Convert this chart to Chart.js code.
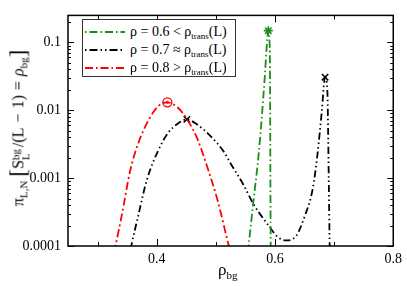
<!DOCTYPE html>
<html>
<head>
<meta charset="utf-8">
<script src="https://cdn.jsdelivr.net/npm/chart.js@4.4.0/dist/chart.umd.min.js"></script>
<style>
  body { margin: 0; background: #fff; }
  #wrap { position: relative; width: 407px; height: 286px; font-family: "Liberation Serif", "DejaVu Serif", serif; }
  #legend { position: absolute; left: 82px; top: 19px; width: 152px; height: 56px; border: 1px solid #333; background: #fff; }
  .row { position: absolute; left: 0; height: 18px; font-size: 14px; line-height: 18px; white-space: nowrap; }
  .row svg { position: absolute; left: 2px; top: 4px; }
  .row span.t { position: absolute; left: 47px; top: 0; }
  sub.s { font-size: 9px; vertical-align: -3px; }
  #ytitle { position: absolute; left: 21px; top: 128px; transform: translate(-50%, -50%) rotate(-90deg); font-size: 16px; white-space: nowrap; line-height: 20px; }
  #ytitle .br { font-size: 23px; vertical-align: -2px; }
  #ytitle .op { margin: 0 5px; }
  #ytitle sub, #ytitle sup { font-size: 11px; }
  #ytitle .stk { display: inline-block; vertical-align: -6px; line-height: 10px; font-size: 11px; margin-right: 2px; }
  #xtitle { position: absolute; left: 218px; top: 260px; font-size: 17px; }
  #xtitle sub { font-size: 11px; vertical-align: -4px; }
</style>
</head>
<body>
<div id="wrap">
  <canvas id="c" width="407" height="286"></canvas>
  <div id="legend">
    <div class="row" style="top:3px"><svg width="40" height="10"><line x1="0" y1="5" x2="40" y2="5" stroke="#1b8c1b" stroke-width="2" stroke-dasharray="1.5,3,8,3"/></svg><span class="t">ρ = 0.6 &lt; ρ<sub class="s">trans</sub>(L)</span></div>
    <div class="row" style="top:21px"><svg width="40" height="10"><line x1="0" y1="5" x2="40" y2="5" stroke="#000" stroke-width="2" stroke-dasharray="1.5,3,8,3,1.5,3"/></svg><span class="t">ρ = 0.7 ≈ ρ<sub class="s">trans</sub>(L)</span></div>
    <div class="row" style="top:39px"><svg width="40" height="10"><line x1="0" y1="5" x2="40" y2="5" stroke="#ff0000" stroke-width="2" stroke-dasharray="8,3,1.5,3"/></svg><span class="t">ρ = 0.8 &gt; ρ<sub class="s">trans</sub>(L)</span></div>
  </div>
  <div id="ytitle">π<sub>L,N</sub> <span class="br">[</span>S<span class="stk">bg<br>L</span>/(L<span class="op">−</span>1)<span class="op">=</span><i>ρ</i><sub>bg</sub><span class="br">]</span></div>
  <div id="xtitle">ρ<sub>bg</sub></div>
</div>
<script>
// order parameter rho_bg and probability pi_{L,N}
const rhoGreen = [0.554, 0.5553, 0.5636, 0.572, 0.5775, 0.583, 0.586, 0.5887, 0.5912, 0.5928, 0.593];
const piGreen = [8e-5, 1.0e-4, 4.6e-4, 2.06e-3, 7.5e-3, 0.0335, 0.087, 0.149, 0.08, 1.0e-4, 8e-5];

const rhoBlack = [0.356, 0.358, 0.369, 0.383, 0.4025, 0.419, 0.436, 0.451, 0.469, 0.491, 0.5136, 0.5247, 0.547, 0.5636, 0.586, 0.605, 0.619, 0.636, 0.650, 0.664, 0.672, 0.679, 0.6847, 0.6885, 0.691, 0.6925, 0.693];
const piBlack = [9e-5, 1.1e-4, 2.85e-4, 9.2e-4, 2.55e-3, 4.6e-3, 6.4e-3, 7.35e-3, 6.1e-3, 4.17e-3, 2.44e-3, 1.66e-3, 7.9e-4, 4.14e-4, 2.18e-4, 1.35e-4, 1.21e-4, 1.42e-4, 2.7e-4, 7.1e-4, 2.3e-3, 9.3e-3, 0.0307, 0.02, 9e-4, 1.0e-4, 8e-5];

const rhoRed = [0.327, 0.330, 0.341, 0.355, 0.369, 0.386, 0.4025, 0.418, 0.436, 0.4525, 0.469, 0.486, 0.5025, 0.522, 0.525];
const piRed = [8e-5, 1.0e-4, 2.85e-4, 1.27e-3, 3.3e-3, 7.1e-3, 0.0115, 0.0131, 0.0109, 7.1e-3, 3.75e-3, 1.42e-3, 4.87e-4, 1.0e-4, 8e-5];

const xTicks = [0.4, 0.6, 0.8];
const xMinor = [0.3, 0.5, 0.7];
const yTicks = [1e-4, 1e-3, 1e-2, 1e-1];
const yTickLabels = ["0.0001", "0.001", "0.01", "0.1"];

const GREEN = "#1b8c1b", BLACK = "#000000", RED = "#ff0000";

const pts = (xs, ys) => xs.map((x, i) => ({ x: x, y: ys[i] }));
// local maxima get a marker
const peaks = (xs, ys) => pts(xs, ys).filter((p, i) => i > 0 && i < ys.length - 1 && ys[i] > ys[i - 1] && ys[i] > ys[i + 1]);

function curve(label, xs, ys, color, dash) {
  return {
    type: "line", label: label, data: pts(xs, ys),
    borderColor: color, borderWidth: 1.8, borderDash: dash,
    pointRadius: 0, fill: false, cubicInterpolationMode: "monotone"
  };
}
function marker(xs, ys, color, style, r, w, bg) {
  return {
    type: "scatter", data: peaks(xs, ys),
    borderColor: color, backgroundColor: bg || "transparent",
    pointStyle: style, pointRadius: r, borderWidth: w, clip: false
  };
}

// inward ticks on all four sides plus the frame
const frameTicks = {
  id: "frameTicks",
  afterDraw(chart) {
    const { ctx, chartArea: a, scales: { x, y } } = chart;
    ctx.save();
    ctx.strokeStyle = "#000";
    ctx.lineWidth = 1;
    const vt = (v, len) => {
      const px = Math.round(x.getPixelForValue(v)) + 0.5;
      ctx.beginPath();
      ctx.moveTo(px, a.bottom); ctx.lineTo(px, a.bottom - len);
      ctx.moveTo(px, a.top); ctx.lineTo(px, a.top + len);
      ctx.stroke();
    };
    const ht = (v, len) => {
      const py = Math.round(y.getPixelForValue(v)) + 0.5;
      ctx.beginPath();
      ctx.moveTo(a.left, py); ctx.lineTo(a.left + len, py);
      ctx.moveTo(a.right, py); ctx.lineTo(a.right - len, py);
      ctx.stroke();
    };
    xTicks.forEach(v => vt(v, 7));
    xMinor.forEach(v => vt(v, 4));
    yTicks.forEach(v => ht(v, 6));
    yTicks.forEach(d => {
      for (let k = 2; k <= 9; k++) {
        const v = d * k;
        if (v < y.max) ht(v, 3);
      }
    });
    ctx.lineWidth = 1.5;
    ctx.strokeRect(a.left, a.top, a.right - a.left, a.bottom - a.top);
    ctx.restore();
  }
};

new Chart(document.getElementById("c"), {
  data: {
    datasets: [
      curve("rho = 0.6", rhoGreen, piGreen, GREEN, [8, 3, 1.5, 3]),
      curve("rho = 0.7", rhoBlack, piBlack, BLACK, [7, 3, 1.5, 3, 1.5, 3]),
      curve("rho = 0.8", rhoRed, piRed, RED, [8, 3, 2, 3]),
      marker(rhoGreen, piGreen, GREEN, "star", 4.5, 1.6),
      marker(rhoBlack, piBlack, BLACK, "crossRot", 4.5, 1.5),
      marker(rhoRed, piRed, RED, "circle", 4.5, 1.3),
      marker(rhoRed, piRed, RED, "circle", 1, 1, RED)
    ]
  },
  options: {
    responsive: false,
    animation: false,
    devicePixelRatio: 1,
    layout: { padding: { top: 2, right: 10, left: 0, bottom: 0 } },
    plugins: { legend: { display: false }, tooltip: { enabled: false } },
    scales: {
      x: {
        type: "linear", min: 0.25, max: 0.8,
        grid: { display: false, drawTicks: false },
        border: { display: false },
        afterBuildTicks: s => { s.ticks = xTicks.map(v => ({ value: v })); },
        afterFit: s => { s.height = 40; },
        ticks: {
          padding: 5, color: "#000", maxRotation: 0,
          font: { family: "Liberation Serif", size: 14 },
          callback: v => v.toFixed(1)
        }
      },
      y: {
        type: "logarithmic", min: 1e-4, max: 0.25,
        grid: { display: false, drawTicks: false },
        border: { display: false },
        afterBuildTicks: s => { s.ticks = yTicks.map(v => ({ value: v })); },
        afterFit: s => { s.width = 68; },
        ticks: {
          padding: 7, color: "#000",
          font: { family: "Liberation Serif", size: 14 },
          callback: v => yTickLabels[yTicks.findIndex(t => Math.abs(t - v) / t < 1e-6)]
        }
      }
    }
  },
  plugins: [frameTicks]
});
</script>
</body>
</html>
